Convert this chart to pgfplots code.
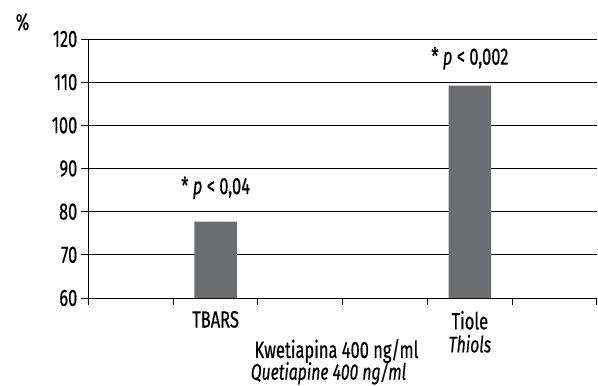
\documentclass[border=0pt]{standalone}
\usepackage{fontspec}
\setmainfont{Fira Sans}[FakeStretch=0.7, FakeBold=0.5]
\usepackage{pgfplots}
\pgfplotsset{compat=1.18}
\definecolor{bargray}{HTML}{6D6E71}
\newcommand{\bigf}{\fontsize{23.5pt}{26pt}\selectfont}
\begin{document}
\bigf
\begin{tikzpicture}
\useasboundingbox (-88.5pt,-88pt) rectangle (509.5pt,298pt);
\begin{axis}[
  at={(0pt,0pt)}, anchor=south west,
  scale only axis, width=508.5pt, height=259pt,
  xmin=0, xmax=6, ymin=60, ymax=120,
  axis x line*=bottom, axis y line*=left,
  axis line style={black, line width=1pt},
  xtick={0,1,2,3,4,5,6}, xticklabels={},
  ytick={60,70,80,90,100,110,120},
  tick align=outside, major tick length=7pt,
  tick style={black, line width=1pt},
  ymajorgrids, grid style={black, line width=1pt},
  /pgf/number format/assume math mode=true,
  yticklabel style={font=\bigf, inner sep=2pt, xshift=-2pt},
  extra x ticks={1.5,4.5},
  extra x tick labels={TBARS, {Tiole\\[-3pt]{\fontsize{22.5pt}{24pt}\selectfont\itshape Thiols}}},
  extra x tick style={major tick length=0pt, grid=none,
     xticklabel style={align=center, font=\bigf, yshift=-5pt}},
  clip=false,
]
\addplot[ybar, bar width=0.5, fill=bargray, draw=none] coordinates {(1.5,77.7) (4.5,109.2)};
\node[font=\bigf] at (axis cs:1.5,85.5) {* \textit{p} < 0,04};
\node[font=\bigf] at (axis cs:4.5,115.5) {* \textit{p} < 0,002};
\end{axis}
\node[font=\bigf] at (-66pt,276pt) {\%};
\node[font=\bigf, inner sep=0pt] at (248pt,-53pt) {Kwetiapina 400 ng/ml};
\node[font=\fontsize{22.5pt}{24pt}\selectfont\itshape, inner sep=0pt] at (240pt,-75pt) {Quetiapine 400 ng/ml};
\end{tikzpicture}
\end{document}
